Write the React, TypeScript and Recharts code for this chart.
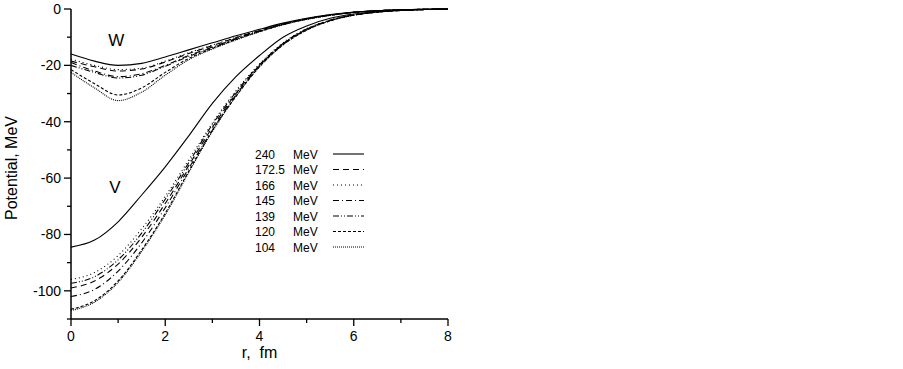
import React from "react"
import { LineChart, Line, XAxis, YAxis, Label, ReferenceDot } from "recharts"

// radius grid, fm
const rGrid = [0, 0.5, 1, 1.5, 2, 2.5, 3, 3.5, 4, 4.5, 5, 5.5, 6, 6.5, 7, 7.5, 8]

const energies = ["240", "172.5", "166", "145", "139", "120", "104"]
const dashes = ["", "6 4", "1 3", "6 3 1 3", "6 2 1 2 1 2", "3 2", "1 1"]

// real part V (MeV)
const v240 = [-84.5, -82, -75.5, -66, -56, -45, -33.5, -24, -16.5, -10, -6, -3.3, -1.8, -0.9, -0.4, -0.2, -0.1]
const v172 = [-99, -96.5, -90.5, -81, -69, -55.5, -42, -30, -20, -12.3, -7.2, -4, -2.1, -1.1, -0.5, -0.2, -0.1]
const v166 = [-96, -93.5, -87.5, -78, -66.5, -53.5, -40.5, -29, -19.5, -12, -7, -3.9, -2, -1, -0.5, -0.2, -0.1]
const v145 = [-102, -99.5, -93, -83, -70.5, -56.5, -43, -30.5, -20.2, -12.5, -7.3, -4.1, -2.2, -1.1, -0.5, -0.2, -0.1]
const v139 = [-97.3, -95, -89, -79.5, -67.5, -54.5, -41, -29.5, -19.8, -12.2, -7.1, -4, -2.1, -1.1, -0.5, -0.2, -0.1]
const v120 = [-106.5, -103.5, -96.5, -85.5, -72.5, -57.5, -43, -31, -20.5, -12.7, -7.5, -4.2, -2.2, -1.1, -0.5, -0.2, -0.1]
const v104 = [-107, -104, -97, -86, -73, -58, -43.5, -31, -20.5, -12.7, -7.5, -4.2, -2.2, -1.1, -0.5, -0.2, -0.1]

// imaginary part W (MeV)
const w240 = [-16, -18.5, -20, -19.3, -17, -14.5, -12, -9.5, -7.2, -5, -3.3, -2, -1.1, -0.6, -0.3, -0.1, 0]
const w172 = [-18.5, -20.5, -22, -21.3, -18.8, -15.8, -13, -10.2, -7.6, -5.3, -3.5, -2.1, -1.2, -0.6, -0.3, -0.1, 0]
const w166 = [-17.8, -20, -21.5, -21, -18.5, -15.5, -12.8, -10, -7.5, -5.2, -3.4, -2.1, -1.2, -0.6, -0.3, -0.1, 0]
const w145 = [-19, -22, -24, -23, -20, -16.5, -13.5, -10.5, -7.8, -5.4, -3.5, -2.2, -1.2, -0.6, -0.3, -0.1, 0]
const w139 = [-20, -22.5, -24.5, -23.5, -20.3, -16.8, -13.7, -10.6, -7.9, -5.5, -3.6, -2.2, -1.2, -0.6, -0.3, -0.1, 0]
const w120 = [-21.5, -26.5, -30.5, -28, -22.5, -17.5, -14, -10.8, -8, -5.5, -3.6, -2.2, -1.2, -0.6, -0.3, -0.1, 0]
const w104 = [-22.5, -28, -32.5, -29.5, -23.5, -18, -14.2, -11, -8.1, -5.6, -3.7, -2.3, -1.2, -0.6, -0.3, -0.1, 0]

const vSeries = [v240, v172, v166, v145, v139, v120, v104]
const wSeries = [w240, w172, w166, w145, w139, w120, w104]

const xTicks = [0, 1, 2, 3, 4, 5, 6, 7, 8]
const yTicks = [-110, -100, -90, -80, -70, -60, -50, -40, -30, -20, -10, 0]

const data = rGrid.map((r, k) => {
  const row: any = { r }
  energies.forEach((_, i) => {
    row["v" + i] = vSeries[i][k]
    row["w" + i] = wSeries[i][k]
  })
  return row
})

const font = "'Liberation Sans', Arial, sans-serif"

const XTick = ({ x, y, payload }: any) => {
  const major = payload.value % 2 === 0
  return (
    <g>
      <line x1={x} x2={x} y1={y} y2={y + (major ? 7 : 4)} stroke="#000" strokeWidth={1.3} />
      {major && (
        <text x={x} y={y + 22} textAnchor="middle" fontSize={14} fill="#000" fontFamily={font}>
          {payload.value}
        </text>
      )}
    </g>
  )
}

const YTick = ({ x, y, payload }: any) => {
  const major = payload.value % 20 === 0
  return (
    <g>
      <line x1={x} x2={x - (major ? 7 : 4)} y1={y} y2={y} stroke="#000" strokeWidth={1.3} />
      {major && (
        <text x={x - 10} y={y + 5} textAnchor="end" fontSize={14} fill="#000" fontFamily={font}>
          {payload.value}
        </text>
      )}
    </g>
  )
}

const LegendBox = () => (
  <svg width={120} height={110} style={{ display: "block" }}>
    {energies.map((e, i) => {
      const cy = 9 + i * 15.5
      return (
        <g key={e}>
          <text x={5} y={cy + 4.5} fontSize={12} fontFamily={font}>{e}</text>
          <text x={43} y={cy + 4.5} fontSize={12} fontFamily={font}>MeV</text>
          <line x1={83} x2={114} y1={cy} y2={cy} stroke="#000" strokeWidth={1.1} strokeDasharray={dashes[i]} />
        </g>
      )
    })}
  </svg>
)

export default function App() {
  return (
    <div style={{ position: "absolute", left: 0, top: 0, width: 903, height: 369, background: "#fff" }}>
      <LineChart
        width={903}
        height={369}
        data={data}
        margin={{ top: 9, right: 455, left: 0, bottom: 20 }}
        style={{ fontFamily: font }}
      >
        <XAxis
          dataKey="r"
          type="number"
          domain={[0, 8]}
          ticks={xTicks}
          interval={0}
          height={30}
          tickSize={0}
          tickMargin={0}
          tickLine={false}
          tick={<XTick />}
          axisLine={{ stroke: "#000", strokeWidth: 1.5 }}
        >
          <Label
            content={({ viewBox }: any) => (
              <text
                x={viewBox.x + viewBox.width / 2}
                y={viewBox.y + 39}
                textAnchor="middle"
                fontSize={16}
                fontFamily={font}
                fill="#000"
                style={{ whiteSpace: "pre" }}
              >
                {"r,  fm"}
              </text>
            )}
          />
        </XAxis>
        <YAxis
          type="number"
          domain={[-110, 0]}
          ticks={yTicks}
          interval={0}
          width={71}
          tickSize={0}
          tickMargin={0}
          tickLine={false}
          tick={<YTick />}
          axisLine={{ stroke: "#000", strokeWidth: 1.5 }}
        >
          <Label
            content={({ viewBox }: any) => {
              const cy = viewBox.y + viewBox.height / 2 + 4
              return (
                <text
                  x={17}
                  y={cy}
                  transform={`rotate(-90 17 ${cy})`}
                  textAnchor="middle"
                  fontSize={16}
                  fontFamily={font}
                  fill="#000"
                >
                  Potential, MeV
                </text>
              )
            }}
          />
        </YAxis>
        {energies.map((e, i) => (
          <Line
            key={"v" + e}
            dataKey={"v" + i}
            type="monotone"
            stroke="#000"
            strokeWidth={1.1}
            strokeDasharray={dashes[i]}
            dot={false}
            activeDot={false}
            isAnimationActive={false}
          />
        ))}
        {energies.map((e, i) => (
          <Line
            key={"w" + e}
            dataKey={"w" + i}
            type="monotone"
            stroke="#000"
            strokeWidth={1.1}
            strokeDasharray={dashes[i]}
            dot={false}
            activeDot={false}
            isAnimationActive={false}
          />
        ))}
        <ReferenceDot
          x={0.96}
          y={-11}
          r={1}
          fill="none"
          stroke="none"
          label={{ value: "W", position: "center", fontSize: 17, fill: "#000", fontFamily: font }}
        />
        <ReferenceDot
          x={0.93}
          y={-63.2}
          r={1}
          fill="none"
          stroke="none"
          label={{ value: "V", position: "center", fontSize: 17, fill: "#000", fontFamily: font }}
        />
      </LineChart>
      <div style={{ position: "absolute", left: 250, top: 145 }}>
        <LegendBox />
      </div>
    </div>
  )
}
